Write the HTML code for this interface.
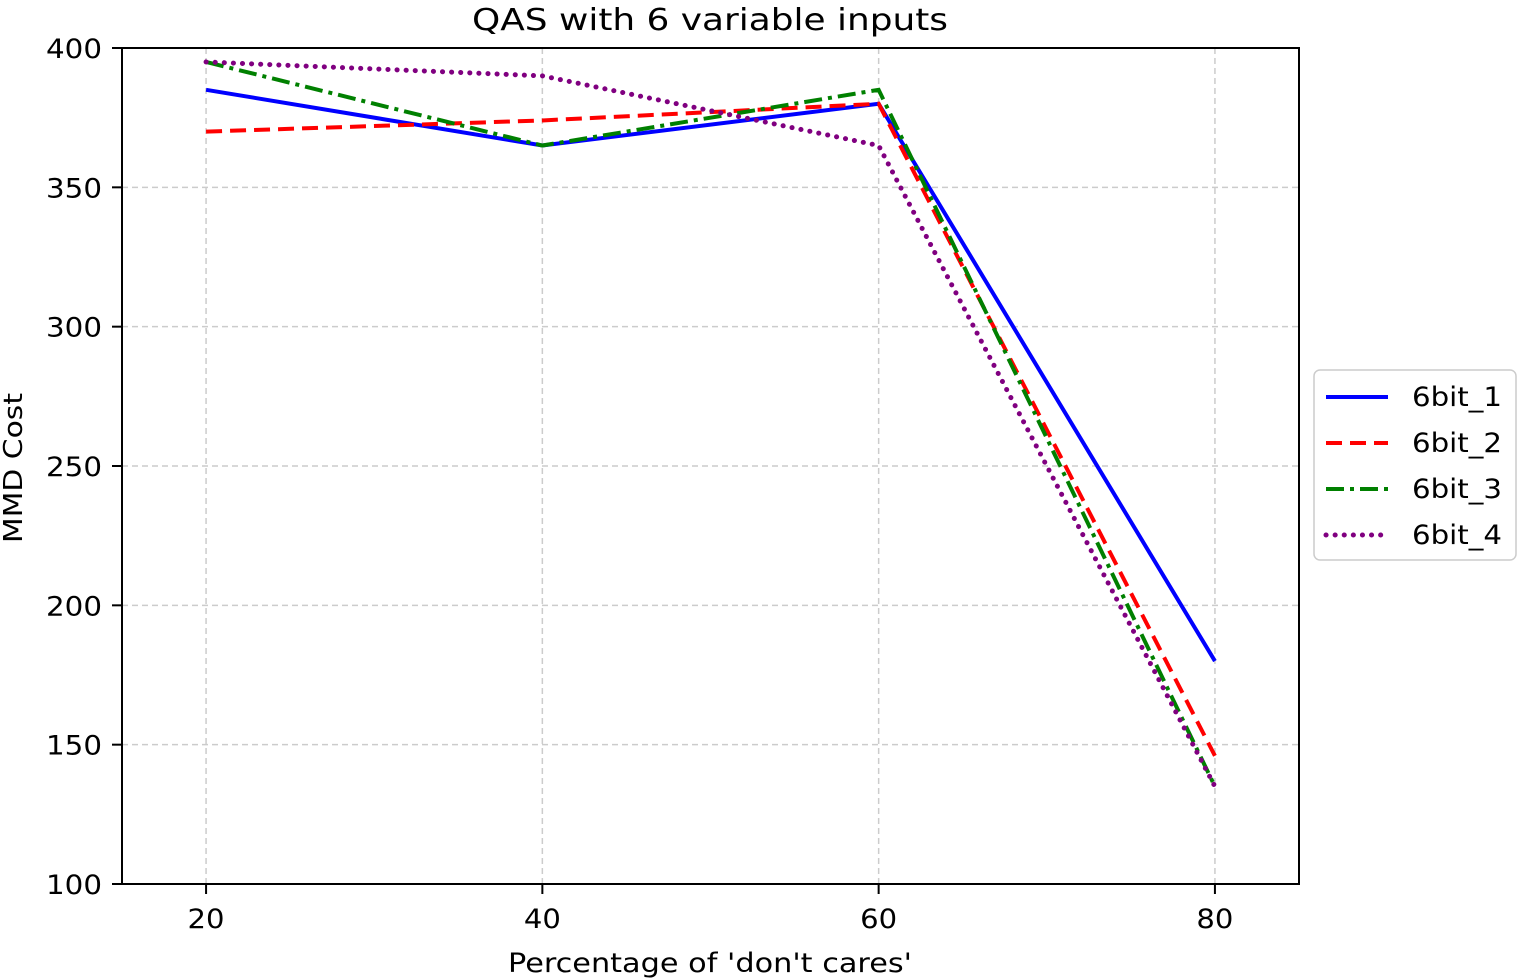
<!DOCTYPE html>
<html><head><meta charset="utf-8"><style>body{margin:0;background:#fff}svg{display:block}text{font-family:"DejaVu Sans","Liberation Sans",sans-serif;fill:#000}</style></head>
<body>
<svg id="chart" width="1520" height="980" viewBox="0 0 1520 980" xmlns="http://www.w3.org/2000/svg">
<text x="710" y="30" font-size="30" text-anchor="middle" textLength="476" lengthAdjust="spacingAndGlyphs">QAS with 6 variable inputs</text>
<g id="grid"></g>
<g id="lines"></g>
<rect x="122" y="48" width="1177" height="836" fill="none" stroke="#000" stroke-width="2"/>
<g id="ticks"></g>
<text x="710" y="972" font-size="27" text-anchor="middle" textLength="404" lengthAdjust="spacingAndGlyphs">Percentage of 'don't cares'</text>
<text transform="translate(22,468) rotate(-90)" font-size="26" text-anchor="middle" textLength="150" lengthAdjust="spacingAndGlyphs">MMD Cost</text>
<g id="legend"></g>
</svg>
<script>
const categories=[20,40,60,80];
const xTicks=[20,40,60,80];
const yTicks=[100,150,200,250,300,350,400];
const seriesNames=["6bit_1","6bit_2","6bit_3","6bit_4"];
const s1=[385,365,380,180];
const s2=[370,374,380,146];
const s3=[395,365,385,135];
const s4=[395,390,365,135];
const seriesValues=[s1,s2,s3,s4];
const colors=["#0000ff","#ff0000","#008000","#800080"];
const dashes=["","16,8","18,6,4,6","0.1,9"];
const caps=["butt","butt","butt","round"];
const X=v=>122+(v-15)/70*1177;
const Y=v=>884-(v-100)/300*836;
const NS="http://www.w3.org/2000/svg";
function mk(t,a,p){const e=document.createElementNS(NS,t);for(const k in a)e.setAttribute(k,a[k]);p.appendChild(e);return e;}
const grid=document.getElementById('grid'),ticks=document.getElementById('ticks'),lines=document.getElementById('lines'),leg=document.getElementById('legend');
xTicks.forEach(v=>{
const g=mk('line',{x1:X(v),x2:X(v),y1:48,y2:884,stroke:'#ccc','stroke-dasharray':'6,4','stroke-width':1.5},grid);


const t=mk('line',{x1:X(v),x2:X(v),y1:884,y2:894,stroke:'#000','stroke-width':2},ticks);


const l=mk('text',{x:X(v),y:928,'font-size':27,'text-anchor':'middle',textLength:37,lengthAdjust:'spacingAndGlyphs'},ticks);l.textContent=v;


});
yTicks.forEach(v=>{
const g=mk('line',{x1:122,x2:1299,y1:Y(v),y2:Y(v),stroke:'#ccc','stroke-dasharray':'6,4','stroke-width':1.5},grid);


const t=mk('line',{x1:112,x2:122,y1:Y(v),y2:Y(v),stroke:'#000','stroke-width':2},ticks);


const l=mk('text',{x:102,y:Y(v)+10,'font-size':27,'text-anchor':'end',textLength:56,lengthAdjust:'spacingAndGlyphs'},ticks);l.textContent=v;


});
seriesValues.forEach((vals,i)=>{
const p=mk('polyline',{points:vals.map((v,j)=>X(categories[j])+','+Y(v)).join(' '),fill:'none',stroke:colors[i],'stroke-width':i==3?5:4,'stroke-dasharray':dashes[i],'stroke-linecap':caps[i]},lines);


});
const box=mk('rect',{x:1314,y:370,width:202,height:190,rx:6,fill:'#fff',stroke:'#ccc','stroke-width':1.5},leg);


seriesNames.forEach((n,i)=>{
const y=397+i*46;
const ln=mk('line',{x1:1326,x2:1388,y1:y,y2:y,stroke:colors[i],'stroke-width':i==3?5:4,'stroke-dasharray':dashes[i],'stroke-linecap':caps[i]},leg);


const t=mk('text',{x:1412,y:y+9,'font-size':27,textLength:90,lengthAdjust:'spacingAndGlyphs'},leg);t.textContent=n;


});
</script>
</body></html>
